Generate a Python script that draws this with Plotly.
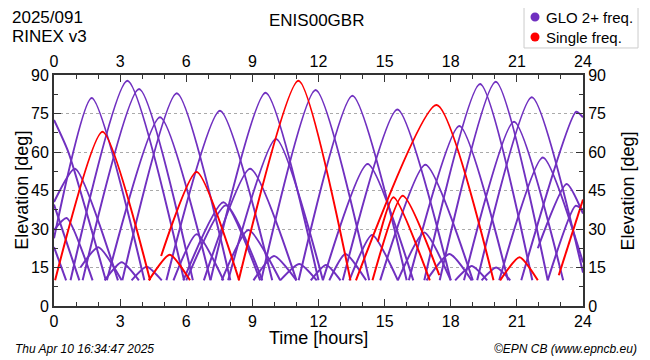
import plotly.graph_objects as go

# ---- data (time [h], elevation [deg]) ----
X_TICKS = [0, 3, 6, 9, 12, 15, 18, 21, 24]
Y_TICKS = [0, 15, 30, 45, 60, 75, 90]

GLO_ARCS = [
    [(0, 72.5), (0.65, 60), (2.35, 10)],
    [(0, 40.5), (0.95, 53.5), (2.9, 10)],
    [(0, 29.6), (0.57, 34.3), (1.75, 10)],
    [(0, 39.5), (1.15, 10)],
    [(0, 23), (0.55, 10)],
    [(0, 26.4), (1.71, 81), (4.1, 10)],
    [(1.2, 15), (2.01, 22.9), (3.07, 10)],
    [(0.75, 10), (3.33, 87.8), (5.9, 10)],
    [(1.3, 10), (3.86, 84.5), (6.3, 10)],
    [(2.3, 10), (3.07, 17), (3.85, 10)],
    [(2.4, 10), (4.81, 73.5), (7.1, 10)],
    [(3.1, 10), (5.57, 82.9), (8.0, 10)],
    [(3.52, 10), (4.2, 15.3), (4.89, 10)],
    [(5.42, 10), (6.47, 28), (7.69, 10)],
    [(5.87, 10), (7.69, 40.4), (9.35, 10)],
    [(6.0, 10), (7.8, 39.3), (9.45, 10)],
    [(5.1, 10), (7.53, 76.1), (9.9, 10)],
    [(6.8, 10), (8.9, 53.5), (11.0, 10)],
    [(7.61, 10), (8.82, 29.6), (10.26, 10)],
    [(7.1, 10), (9.6, 83.1), (12.0, 10)],
    [(7.9, 10), (10.07, 65.1), (12.2, 10)],
    [(9.05, 10), (9.98, 19.5), (11.0, 10)],
    [(9.4, 10), (11.87, 84.2), (14.3, 10)],
    [(10.26, 10), (11.13, 16.4), (11.92, 10)],
    [(11.1, 10), (13.54, 81.9), (16.0, 10)],
    [(11.65, 10), (12.34, 16), (13.0, 10)],
    [(12.2, 10), (14.23, 55.3), (16.3, 10)],
    [(12.49, 10), (13.22, 20.3), (14.16, 10)],
    [(13.4, 10), (14.43, 27.7), (15.6, 10)],
    [(13.1, 10), (15.58, 76.6), (18.0, 10)],
    [(14.8, 10), (16.85, 55), (19.0, 10)],
    [(15.6, 10), (16.8, 28.6), (18.0, 10)],
    [(16.1, 10), (18.39, 70.1), (20.6, 10)],
    [(16.9, 10), (17.94, 20.3), (18.95, 10)],
    [(16.8, 10), (19.33, 86.5), (21.7, 10)],
    [(18.2, 10), (18.95, 15.6), (19.65, 10)],
    [(17.5, 10), (20.04, 87.4), (22.4, 10)],
    [(19.4, 10), (20.06, 15), (20.7, 10)],
    [(18.6, 10), (20.87, 71.8), (23.1, 10)],
    [(19.2, 10), (21.68, 81.3), (24, 13)],
    [(20.2, 10), (22.18, 57.9), (24, 17)],
    [(21.95, 22.5), (23.26, 47.5), (24, 36)],
    [(22.4, 10), (23.66, 39), (24, 37.5)],
    [(21.2, 10), (23.69, 75.7), (24, 73.5)],
]

SINGLE_ARCS = [
    [(0.05, 10), (2.2, 67.9), (4.36, 10)],
    [(4.3, 10), (5.25, 20), (6.17, 10)],
    [(4.86, 19.5), (6.47, 52.2), (8.4, 10)],
    [(8.38, 10), (11.09, 87.8), (13.45, 10)],
    [(13.7, 10), (17.36, 78.3), (19.94, 10)],
    [(14.69, 25), (15.4, 42.4), (17.05, 10)],
    [(14.45, 10), (15.82, 43), (17.48, 12)],
    [(20.24, 10), (21.12, 19), (21.95, 10)],
    [(22.9, 12), (24, 41.5)],
]

LEGEND_LABELS = ["GLO 2+ freq.", "Single freq."]

PURPLE = "#7030C0"
RED = "#FF0000"
FONT = "Liberation Sans, Arial, sans-serif"

fig = go.Figure()

def add_arcs(arcs, color):
    for arc in arcs:
        fig.add_trace(go.Scatter(
            x=[p[0] for p in arc], y=[p[1] for p in arc], mode="lines",
            line=dict(color=color, width=2, shape="spline", smoothing=0.6),
            showlegend=False, hoverinfo="skip"))

add_arcs(GLO_ARCS, PURPLE)
add_arcs(SINGLE_ARCS, RED)

# invisible trace for secondary axes
fig.add_trace(go.Scatter(x=[0], y=[0], xaxis="x2", yaxis="y2", mode="markers",
                         marker=dict(opacity=0), showlegend=False, hoverinfo="skip"))

axis_common = dict(showline=True, linecolor="#333", linewidth=2, ticks="inside",
                   ticklen=7, tickwidth=1, tickcolor="#333", zeroline=False,
                   automargin=False,
                   tickfont=dict(family=FONT, size=16, color="#000"))

# plot area 529 x 231 px; paper units per pixel
PX = 1 / 529
PY = 1 / 231

# legend drawn as a box with circle markers and labels
shapes = [dict(type="rect", xref="paper", yref="paper",
               x0=0.8885, x1=1.104, y0=1.117, y1=1.307,
               line=dict(color="#cccccc", width=1), fillcolor="white", layer="above")]
legend_rows = [(LEGEND_LABELS[0], PURPLE, 1.251), (LEGEND_LABELS[1], RED, 1.1645)]
legend_ann = []
for label, col, yy in legend_rows:
    shapes.append(dict(type="circle", xref="paper", yref="paper",
                       x0=0.9093 - 4.5 * PX, x1=0.9093 + 4.5 * PX,
                       y0=yy - 4.5 * PY, y1=yy + 4.5 * PY,
                       fillcolor=col, line=dict(color=col, width=0), layer="above"))
    legend_ann.append(dict(text=label, xref="paper", yref="paper", x=0.927, y=yy,
                           xanchor="left", yanchor="middle", showarrow=False,
                           font=dict(size=15)))

# page has an 8px body margin: figure is sized so the plot area lands in place
fig.update_layout(
    width=642, height=352,
    margin=dict(l=46, r=67, t=67, b=54, autoexpand=False),
    paper_bgcolor="white", plot_bgcolor="white",
    font=dict(family=FONT, color="#000"),
    showlegend=False,
    xaxis=dict(range=[0, 24], tickvals=X_TICKS, showgrid=False,
               minor=dict(dtick=1, ticks="inside", ticklen=4, tickcolor="#333"),
               **axis_common),
    xaxis2=dict(range=[0, 24], tickvals=X_TICKS, overlaying="x", side="top",
                showgrid=False, anchor="y",
                minor=dict(dtick=1, ticks="inside", ticklen=4, tickcolor="#333"),
                **axis_common),
    yaxis=dict(range=[0, 90], tickvals=Y_TICKS, showgrid=True, gridcolor="#aaaaaa",
               griddash="dot", gridwidth=1,
               minor=dict(dtick=7.5, ticks="inside", ticklen=4, tickcolor="#333"),
               **axis_common),
    yaxis2=dict(range=[0, 90], tickvals=Y_TICKS, overlaying="y", side="right",
                showgrid=False, anchor="x",
                minor=dict(dtick=7.5, ticks="inside", ticklen=4, tickcolor="#333"),
                **axis_common),
    shapes=shapes,
    annotations=[
        dict(text="2025/091", xref="paper", yref="paper",
             x=-0.083, y=1.298, xanchor="left", yanchor="top", showarrow=False,
             align="left", font=dict(size=17)),
        dict(text="RINEX v3", xref="paper", yref="paper",
             x=-0.083, y=1.218, xanchor="left", yanchor="top", showarrow=False,
             align="left", font=dict(size=17)),
        dict(text="ENIS00GBR", xref="paper", yref="paper", x=0.497, y=1.287,
             xanchor="center", yanchor="top", showarrow=False, font=dict(size=17)),
        dict(text="Time [hours]", xref="paper", yref="paper", x=0.5, y=-0.138,
             xanchor="center", yanchor="middle", showarrow=False, font=dict(size=18),
             borderpad=0),
        dict(text="Elevation [deg]", xref="paper", yref="paper", x=-0.062, y=0.5,
             xanchor="center", yanchor="middle", textangle=-90, showarrow=False,
             font=dict(size=18)),
        dict(text="Elevation [deg]", xref="paper", yref="paper", x=1.085, y=0.5,
             xanchor="center", yanchor="middle", textangle=-90, showarrow=False,
             font=dict(size=18)),
        dict(text="<i>Thu Apr 10 16:34:47 2025</i>", xref="paper", yref="paper",
             x=-0.077, y=-0.185, xanchor="left", yanchor="middle", showarrow=False,
             font=dict(size=12)),
        dict(text="<i>©EPN CB (www.epncb.eu)</i>", xref="paper", yref="paper",
             x=1.105, y=-0.185, xanchor="right", yanchor="middle", showarrow=False,
             font=dict(size=12)),
    ] + legend_ann,
)

fig.write_html("out.html")
